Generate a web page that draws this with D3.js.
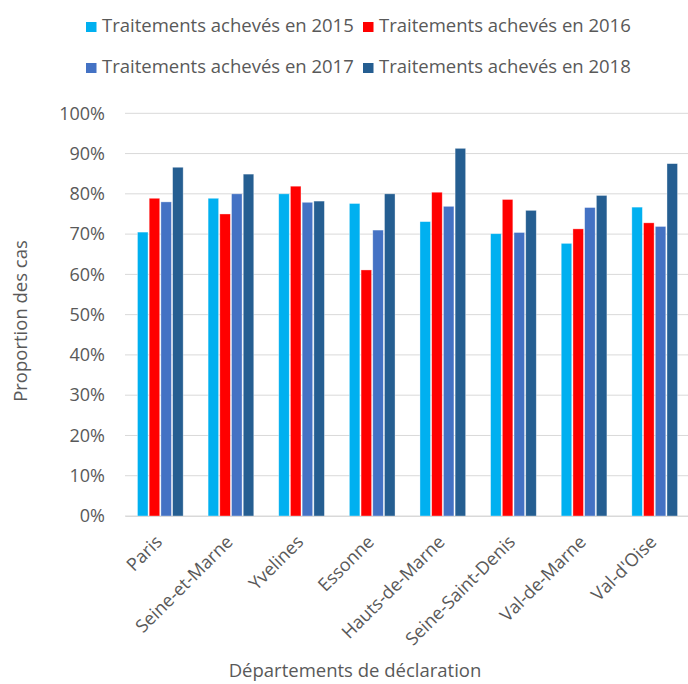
<!DOCTYPE html>
<html><head><meta charset="utf-8">
<script src="https://cdn.jsdelivr.net/npm/d3@7/dist/d3.min.js"></script>
<style>body{margin:0;background:#fff;}svg{display:block;font-family:"Open Sans","Liberation Sans",sans-serif;} svg text{font-family:"Open Sans","Liberation Sans",sans-serif;}</style>
</head><body><svg id="c" width="688" height="684"></svg>
<script>
const categories = ["Paris","Seine-et-Marne","Yvelines","Essonne","Hauts-de-Marne","Seine-Saint-Denis","Val-de-Marne","Val-d'Oise"];
const seriesNames = ["Traitements achevés en 2015","Traitements achevés en 2016","Traitements achevés en 2017","Traitements achevés en 2018"];
const v2015 = [70.5, 78.9, 80.0, 77.6, 73.1, 70.1, 67.7, 76.7];
const v2016 = [78.9, 75.0, 81.9, 61.1, 80.4, 78.6, 71.3, 72.8];
const v2017 = [78.0, 80.0, 77.9, 71.0, 76.9, 70.4, 76.6, 71.9];
const v2018 = [86.6, 84.9, 78.2, 80.0, 91.3, 75.9, 79.6, 87.5];
const yTicks = [0,10,20,30,40,50,60,70,80,90,100];
const colors = ["#00B0F0","#FF0000","#4472C4","#255E91"];
const seriesValues = [v2015, v2016, v2017, v2018];

const svg = d3.select("#c");
const L = 125, R = 690, T = 113.3, B = 516;
const x0 = d3.scaleBand().domain(categories).range([L, R]).paddingInner(0.32).paddingOuter(0.16);
const x1 = d3.scaleBand().domain(d3.range(4)).range([0, x0.bandwidth()]).padding(0.1);
const y = d3.scaleLinear().domain([0,100]).range([B, T]);
const txt = "#595959";

// gridlines
svg.append("g").selectAll("line").data(yTicks).join("line")
  .attr("x1",L).attr("x2",R).attr("y1",d=>y(d)).attr("y2",d=>y(d))
  .attr("stroke","#d9d9d9").attr("stroke-width",1);

// y axis labels
const ya = svg.append("g").attr("transform",`translate(${L},0)`)
  .call(d3.axisLeft(y).tickValues(yTicks).tickFormat(d=>d+"%").tickSize(0).tickPadding(20));
ya.select(".domain").remove();
ya.attr("font-family",null).attr("font-size",null);
ya.selectAll("text").attr("fill",txt).style("font-size","18px");

// bars
const g = svg.append("g");
categories.forEach((c,i)=>{
  seriesValues.forEach((vals,s)=>{
    g.append("rect")
      .attr("x", x0(c)+x1(s)).attr("width", x1.bandwidth())
      .attr("y", y(vals[i])).attr("height", B - y(vals[i]))
      .attr("fill", colors[s]).attr("stroke","#fff").attr("stroke-opacity",0.5).attr("stroke-width",0.7);
  });
});

// x axis
const xa = svg.append("g").attr("transform",`translate(0,${B})`)
  .call(d3.axisBottom(x0).tickSize(0).tickPadding(0));
xa.attr("font-family",null).attr("font-size",null);
xa.select(".domain").attr("stroke","#d9d9d9");
xa.selectAll("text").attr("fill",txt).style("font-size","18px")
  .attr("text-anchor","end").attr("dy",0).attr("y",0)
  .attr("transform","translate(3,27) rotate(-45)");

// axis titles
svg.append("text").attr("transform","translate(27,321) rotate(-90)").attr("text-anchor","middle")
  .attr("fill",txt).style("font-size","18.5px").text("Proportion des cas");
svg.append("text").attr("x",355).attr("y",677).attr("text-anchor","middle")
  .attr("fill",txt).style("font-size","18.5px").text("Départements de déclaration");

// legend
const leg = [[86,32],[363,32],[86,73],[363,73]];
seriesNames.forEach((n,s)=>{
  svg.append("rect").attr("x",leg[s][0]).attr("y",leg[s][1]-10).attr("width",10.5).attr("height",10).attr("fill",colors[s]);
  svg.append("text").attr("x",leg[s][0]+16).attr("y",leg[s][1]).attr("fill",txt).style("font-size","18.5px").text(n);
});
</script></body></html>
